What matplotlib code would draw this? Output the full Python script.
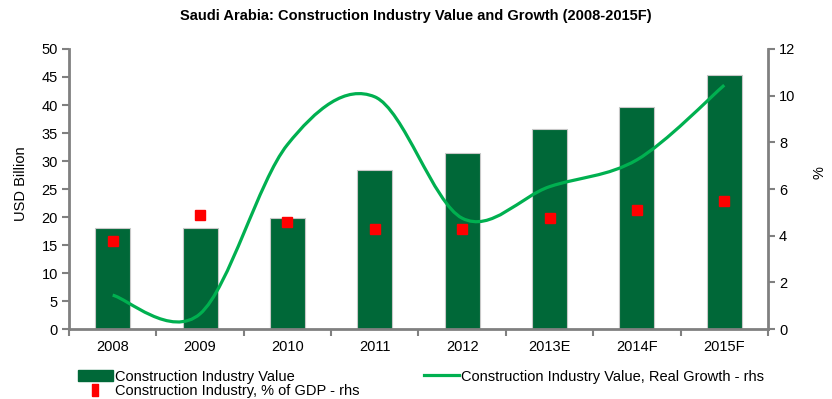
import matplotlib
matplotlib.use("Agg")
import matplotlib.pyplot as plt
from matplotlib.path import Path
from matplotlib.patches import PathPatch
from matplotlib.lines import Line2D
import numpy as np

years = ["2008", "2009", "2010", "2011", "2012", "2013E", "2014F", "2015F"]
value_bn = [18.1, 18.0, 19.9, 28.4, 31.5, 35.7, 39.6, 45.3]
real_growth = [1.45, 0.65, 7.9, 9.95, 4.75, 6.1, 7.25, 10.45]
pct_gdp = [3.78, 4.9, 4.57, 4.29, 4.3, 4.77, 5.09, 5.49]

bar_green = "#006838"
line_green = "#00B050"
spine_grey = "#808080"

plt.rcParams["font.family"] = ["Liberation Sans", "DejaVu Sans"]

fig = plt.figure(figsize=(8.32, 3.99), dpi=100)
ax = fig.add_axes([0.0829, 0.1754, 0.8401, 0.7018])
ax2 = ax.twinx()

x = np.arange(len(years))
ax.bar(x, value_bn, width=0.4, color=bar_green, edgecolor="#c8c8c8", linewidth=0.8, zorder=2)
ax.set_xlim(-0.5, len(years) - 0.5)
ax.set_ylim(0, 50)
ax.set_yticks(range(0, 51, 5))
ax.set_xticks(x)
ax.set_xticklabels(years)
ax.set_xticks(np.arange(-0.5, len(years), 1), minor=True)
ax.tick_params(axis="x", which="major", length=0, pad=8)
ax.tick_params(axis="x", which="minor", length=5, width=1.5, color=spine_grey, direction="out")
ax.tick_params(axis="y", length=5, width=1.5, color=spine_grey, direction="out", pad=3)
ax.set_ylabel("USD Billion", fontsize=10.5)
ax.yaxis.set_label_coords(-0.059, 0.518)

# smoothed line (Excel-like Bezier through the points)
pts = np.column_stack([x, real_growth])
verts = [tuple(pts[0])]
codes = [Path.MOVETO]
for i in range(len(pts) - 1):
    p0 = pts[i - 1] if i > 0 else pts[i]
    p1 = pts[i]
    p2 = pts[i + 1]
    p3 = pts[i + 2] if i + 2 < len(pts) else pts[i + 1]
    c1 = p1 + (p2 - p0) / 6
    c2 = p2 - (p3 - p1) / 6
    verts += [tuple(c1), tuple(c2), tuple(p2)]
    codes += [Path.CURVE4] * 3
ax2.add_patch(PathPatch(Path(verts, codes), facecolor="none", edgecolor=line_green, linewidth=2.3, zorder=3))
ax2.plot(x, pct_gdp, linestyle="none", marker="s", markersize=7.5, color="#FF0000", zorder=4)
ax2.set_ylim(0, 12)
ax2.set_yticks(range(0, 13, 2))
ax2.tick_params(axis="y", length=5, width=1.5, color=spine_grey, direction="out", pad=3)
ax2.set_ylabel("%", fontsize=10.5)
ax2.yaxis.set_label_coords(1.064, 0.557)

for a in (ax, ax2):
    a.spines["top"].set_visible(False)
    for s in ("left", "right", "bottom"):
        a.spines[s].set_color(spine_grey)
        a.spines[s].set_linewidth(2)
    for lab in a.get_xticklabels() + a.get_yticklabels():
        lab.set_fontsize(10.5)
ax.set_zorder(ax2.get_zorder() - 1)
ax2.patch.set_visible(False)
ax.spines["right"].set_visible(False)
ax2.spines["left"].set_visible(False)
ax2.spines["bottom"].set_visible(False)

fig.suptitle("Saudi Arabia: Construction Industry Value and Growth (2008-2015F)",
             fontsize=10.5, fontweight="bold", y=0.978)

tall_square = [(-0.3, -0.5), (0.3, -0.5), (0.3, 0.5), (-0.3, 0.5), (-0.3, -0.5)]
handles = [
    plt.Rectangle((0, 0), 1, 1, color=bar_green),
    Line2D([], [], linestyle="none", marker=tall_square, markersize=8, color="#FF0000"),
    Line2D([], [], color=line_green, linewidth=2.3),
]
labels = ["Construction Industry Value", "Construction Industry, % of GDP - rhs",
          "Construction Industry Value, Real Growth - rhs"]
fig.legend(handles, labels, ncol=2, loc="lower left", bbox_to_anchor=(0.0777, -0.031),
           frameon=False, prop={"size": 10.5},
           handlelength=2.4, handletextpad=0.15, columnspacing=4.4, labelspacing=0.05)

fig.savefig("out.png", dpi=100)
